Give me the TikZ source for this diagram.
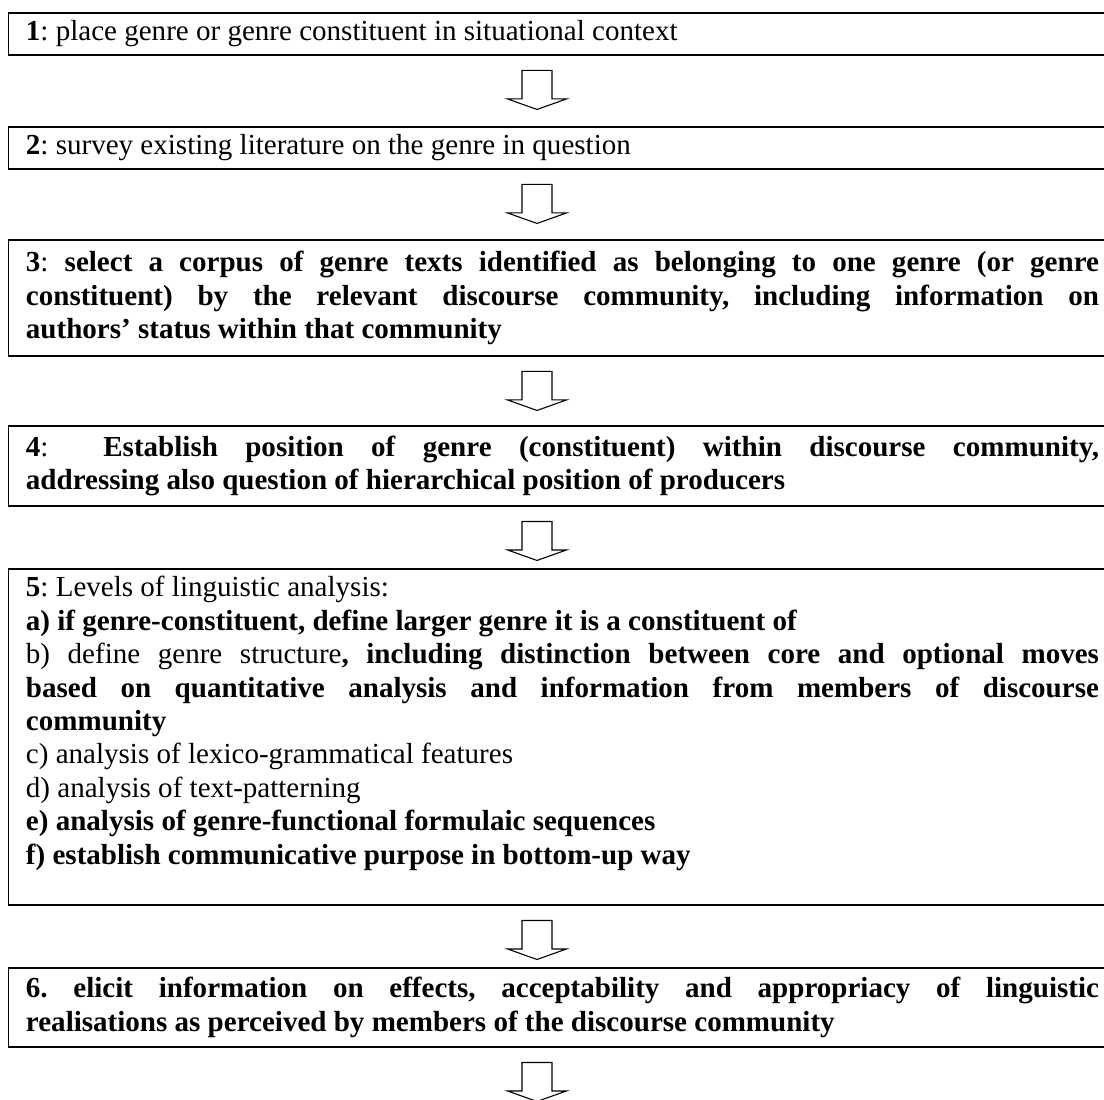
\documentclass[tikz,border=0pt]{standalone}
\usepackage{fontspec}
\setmainfont{Liberation Serif}
\usetikzlibrary{calc}
\frenchspacing
\def\px{0.41322pt}
\tikzset{
  box/.style={draw, line width=0.8pt, anchor=north west, text width=443.4pt,
    inner xsep=17.5*\px, inner ysep=0pt, align=justify,
    font=\fontsize{12}{13.8}\selectfont\frenchspacing},
  blockarr/.style={draw, line width=0.45pt, line join=miter}
}
\newcommand\flowarrow[1]{%
  \draw[blockarr] ($(ax |- #1.south)+(-15,14.5)$) -- ++(30,0) -- ++(0,28.5)
    -- ++(14.5,0) -- ++(-29.5,10.5) -- ++(-29.5,-10.5) -- ++(14.5,0) -- cycle;}
\begin{document}
\begin{tikzpicture}[x=0.41322pt, y=-0.41322pt]
\useasboundingbox (0,0) rectangle (1104,1099);
\clip (0,0) rectangle (1104,1099);
\coordinate (ax) at (537,0);
\node[box, minimum height=42*\px] (b1) at (7.5,12)
  {\textbf{1}: place genre or genre constituent in situational context};
\node[box, minimum height=42*\px] (b2) at (7.5,126)
  {\textbf{2}: survey existing literature on the genre in question};
\node[box, minimum height=116*\px] (b3) at (7.5,239)
  {\hyphenpenalty=10000 \textbf{3}: \textbf{select a corpus of genre texts identified as belonging to one genre (or genre\linebreak constituent) by the relevant discourse community, including information on\linebreak authors’ status within that community}};
\node[box, minimum height=80*\px] (b4) at (7.5,425)
  {\hyphenpenalty=10000 \textbf{4}:\ \ \textbf{Establish position of genre (constituent) within discourse community,\linebreak addressing also question of hierarchical position of producers}};
\node[box, minimum height=336*\px] (b5) at (7.5,568)
  {\hyphenpenalty=10000 \textbf{5}: Levels of linguistic analysis:\\
   \textbf{a) if genre-constituent, define larger genre it is a constituent of}\\
   b) define genre structure\textbf{, including distinction between core and optional moves\linebreak based on quantitative analysis and information from members of discourse\linebreak community}\\
   c) analysis of lexico-grammatical features\\
   d) analysis of text-patterning\\
   \textbf{e) analysis of genre-functional formulaic sequences}\\
   \textbf{f) establish communicative purpose in bottom-up way}\\ \mbox{}};
\node[box, minimum height=79*\px] (b6) at (7.5,967)
  {\hyphenpenalty=10000 \textbf{6. elicit information on effects, acceptability and appropriacy of linguistic\linebreak realisations as perceived by members of the discourse community}};
\flowarrow{b1}
\flowarrow{b2}
\flowarrow{b3}
\flowarrow{b4}
\flowarrow{b5}
\flowarrow{b6}
\end{tikzpicture}
\end{document}
